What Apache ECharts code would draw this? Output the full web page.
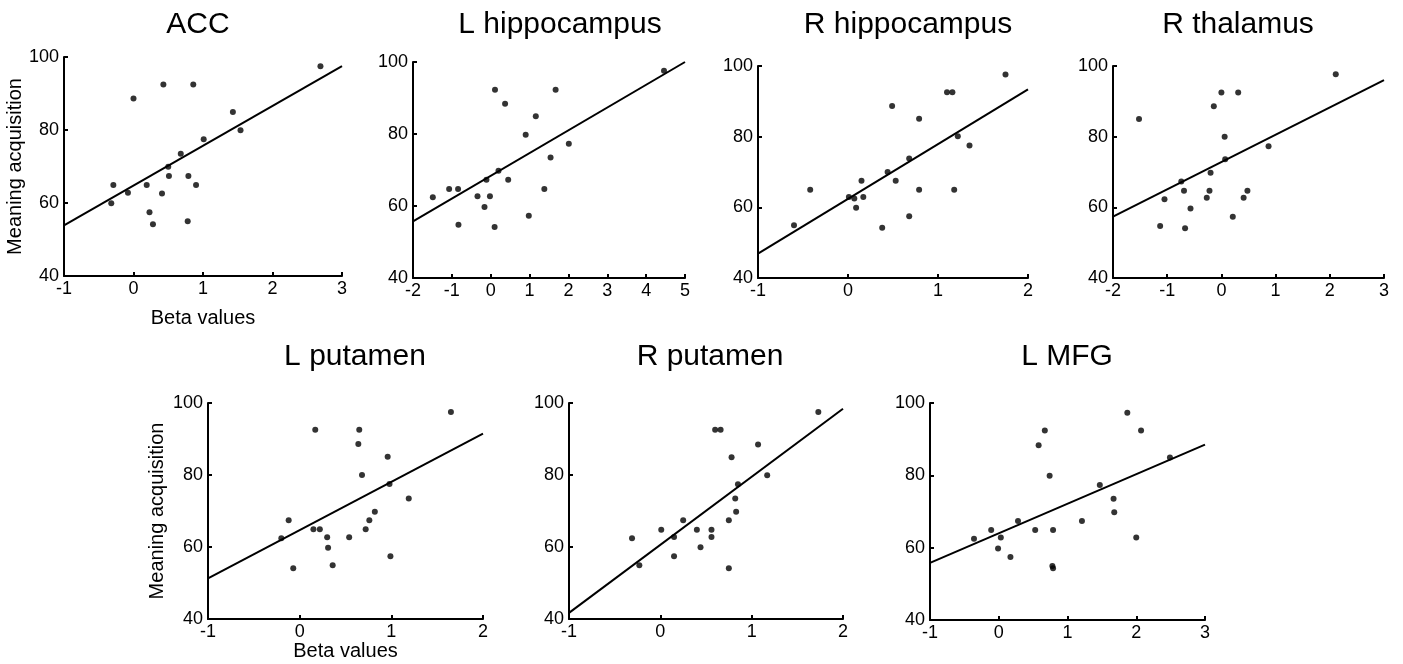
<!DOCTYPE html>
<html>
<head>
<meta charset="utf-8">
<script src="https://cdn.jsdelivr.net/npm/echarts@6/dist/echarts.min.js"></script>
<style>
html,body{margin:0;padding:0;background:#fff;}
#chart{width:1403px;height:664px;}
</style>
</head>
<body>
<div id="chart"></div>
<script>
// ---- Data ----
const panelTitles = ['ACC', 'L hippocampus', 'R hippocampus', 'R thalamus', 'L putamen', 'R putamen', 'L MFG'];
const xRanges = [[-1, 3], [-2, 5], [-1, 2], [-2, 3], [-1, 2], [-1, 2], [-1, 3]];
const yMin = 40, yMax = 100, yStep = 20;
const yAxisTitle = 'Meaning acquisition';
const xAxisTitle = 'Beta values';

const accX = [2.69, 0.00, 0.43, 0.86, 1.43, 1.54, 1.01, 0.68, 0.50, 0.51, 0.79, 0.90, 0.19, -0.29, -0.08, 0.41, -0.32, 0.23, 0.28, 0.78];
const accY = [97.5, 88.6, 92.5, 92.5, 84.9, 79.9, 77.5, 73.5, 69.9, 67.4, 67.4, 64.9, 64.9, 64.9, 62.8, 62.6, 59.9, 57.5, 54.2, 55.0];

const lHipX = [4.46, 0.11, 1.67, 0.37, 1.16, 0.90, 2.01, 1.54, 0.20, -0.11, 0.45, -1.07, -0.84, 1.38, -1.49, -0.34, -0.02, -0.16, 0.98, -0.83, 0.10];
const lHipY = [97.6, 92.3, 92.3, 88.4, 84.9, 79.8, 77.3, 73.5, 69.8, 67.3, 67.3, 64.7, 64.7, 64.7, 62.4, 62.7, 62.7, 59.7, 57.3, 54.8, 54.2];

const rHipX = [1.75, 1.10, 1.16, 0.49, 0.79, 1.22, 1.35, 0.68, 0.44, 0.15, 0.53, -0.42, 0.79, 1.18, 0.01, 0.07, 0.17, 0.09, 0.68, -0.60, 0.38];
const rHipY = [97.6, 92.6, 92.6, 88.7, 85.1, 80.1, 77.5, 73.8, 70.0, 67.5, 67.5, 65.0, 65.0, 65.0, 62.9, 62.5, 62.9, 59.9, 57.5, 54.9, 54.2];

const rThalX = [2.11, 0.00, 0.31, -0.14, -1.52, 0.06, 0.87, 0.07, -0.20, -0.74, -0.69, -0.22, 0.48, -1.05, -0.27, 0.41, -0.57, 0.21, -1.13, -0.67];
const rThalY = [97.7, 92.5, 92.5, 88.6, 85.0, 80.0, 77.3, 73.6, 69.8, 67.3, 64.7, 64.7, 64.7, 62.3, 62.7, 62.7, 59.7, 57.3, 54.7, 54.1];

const lPutX = [1.65, 0.17, 0.65, 0.64, 0.96, 0.68, 0.98, 1.19, 0.82, -0.12, 0.76, 0.15, 0.22, 0.72, -0.20, 0.30, 0.54, 0.31, 0.99, 0.36, -0.07];
const lPutY = [97.5, 92.6, 92.6, 88.6, 85.1, 80.0, 77.5, 73.5, 69.8, 67.4, 67.4, 64.9, 64.9, 64.9, 62.4, 62.7, 62.7, 59.8, 57.4, 54.9, 54.1];

const rPutX = [1.73, 0.60, 0.66, 1.07, 0.78, 1.17, 0.85, 0.82, 0.83, 0.25, 0.75, 0.01, 0.40, 0.56, -0.31, 0.15, 0.56, 0.44, 0.15, -0.23, 0.75];
const rPutY = [97.5, 92.6, 92.6, 88.5, 84.9, 79.9, 77.4, 73.5, 69.8, 67.4, 67.4, 64.8, 64.8, 64.8, 62.4, 62.8, 62.8, 59.9, 57.4, 54.9, 54.1];

const lMfgX = [1.87, 2.07, 0.67, 0.58, 2.49, 0.74, 1.47, 1.67, 1.68, 0.28, 1.21, -0.11, 0.53, 0.79, -0.36, 0.03, 2.00, -0.01, 0.17, 0.78, 0.79];
const lMfgY = [97.3, 92.4, 92.4, 88.3, 84.9, 79.9, 77.3, 73.5, 69.8, 67.4, 67.4, 64.9, 64.9, 64.9, 62.5, 62.8, 62.8, 59.8, 57.4, 54.9, 54.3];

// fitted line: y at the left and right ends of each x axis
const fitStartY = [53.9, 55.7, 46.9, 57.4, 51.3, 41.7, 55.8];
const fitEndY   = [97.5, 100.0, 93.4, 96.0, 91.5, 98.4, 88.5];

const xs = [accX, lHipX, rHipX, rThalX, lPutX, rPutX, lMfgX];
const ys = [accY, lHipY, rHipY, rThalY, lPutY, rPutY, lMfgY];

// ---- Layout (pixels) ----
const layout = [
  {left: 64,   top: 57,  width: 278, height: 219, tx: 198,  ty: 25,  yName: true,  yGap: 34, xName: true, xGap: 32},
  {left: 413,  top: 62,  width: 272, height: 216, tx: 560,  ty: 25},
  {left: 758,  top: 66,  width: 270, height: 212, tx: 908,  ty: 25},
  {left: 1113, top: 66,  width: 271, height: 212, tx: 1238, ty: 25},
  {left: 208,  top: 403, width: 275, height: 216, tx: 355,  ty: 357, yName: true, yGap: 41, xName: true, xGap: 22},
  {left: 569,  top: 403, width: 274, height: 216, tx: 710,  ty: 357},
  {left: 930,  top: 403, width: 275, height: 217, tx: 1067, ty: 357}
];

const FONT = '"Liberation Sans", Arial, Helvetica, sans-serif';
const chart = echarts.init(document.getElementById('chart'), null, {renderer: 'canvas'});

const grid = [], xAxis = [], yAxis = [], series = [], graphic = [];
layout.forEach((L, i) => {
  grid.push({left: L.left, top: L.top, width: L.width, height: L.height, containLabel: false});
  xAxis.push({
    type: 'value', gridIndex: i, min: xRanges[i][0], max: xRanges[i][1], interval: 1,
    name: L.xName ? xAxisTitle : '', nameLocation: 'middle', nameGap: L.xGap || 25,
    nameTextStyle: {fontFamily: FONT, fontSize: 20, color: '#000', verticalAlign: 'top'},
    axisLine: {show: true, onZero: false, lineStyle: {color: '#000', width: 2}},
    axisTick: {show: true, inside: true, length: 4, lineStyle: {color: '#000', width: 2}},
    axisLabel: {fontFamily: FONT, fontSize: 18, color: '#000', margin: 4},
    splitLine: {show: false}
  });
  yAxis.push({
    type: 'value', gridIndex: i, min: yMin, max: yMax, interval: yStep,
    name: L.yName ? yAxisTitle : '', nameLocation: 'middle', nameGap: L.yGap || 30,
    nameTextStyle: {fontFamily: FONT, fontSize: 20, color: '#000'},
    axisLine: {show: true, onZero: false, lineStyle: {color: '#000', width: 2}},
    axisTick: {show: true, inside: true, length: 4, lineStyle: {color: '#000', width: 2}},
    axisLabel: {fontFamily: FONT, fontSize: 18, color: '#000', margin: 5},
    splitLine: {show: false}
  });
  series.push({
    type: 'line', xAxisIndex: i, yAxisIndex: i, symbol: 'none', silent: true,
    lineStyle: {color: '#000', width: 2}, z: 2,
    data: [[xRanges[i][0], fitStartY[i]], [xRanges[i][1], fitEndY[i]]]
  });
  series.push({
    type: 'scatter', xAxisIndex: i, yAxisIndex: i, symbolSize: 6, z: 3,
    itemStyle: {color: '#000'},
    data: xs[i].map((x, k) => [x, ys[i][k]])
  });
  graphic.push({
    type: 'text', x: L.tx, y: L.ty,
    style: {text: panelTitles[i], font: '30px ' + FONT, fill: '#000',
            align: 'center', verticalAlign: 'middle', textAlign: 'center', textVerticalAlign: 'middle'}
  });
});

chart.setOption({
  animation: false,
  backgroundColor: '#fff',
  grid, xAxis, yAxis, series, graphic
});
</script>
</body>
</html>
